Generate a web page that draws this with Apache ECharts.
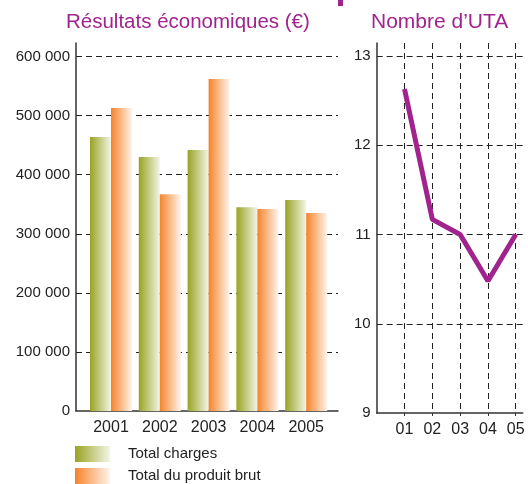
<!DOCTYPE html>
<html>
<head>
<meta charset="utf-8">
<script src="https://cdn.jsdelivr.net/npm/echarts@6/dist/echarts.min.js"></script>
<style>
html,body{margin:0;padding:0;background:#fff;}
#c{width:528px;height:484px;}
</style>
</head>
<body>
<div id="c"></div>
<script>
var years = ['2001', '2002', '2003', '2004', '2005'];
var totalCharges = [464000, 430000, 442000, 345000, 357000];
var produitBrut = [513000, 367000, 562000, 342000, 335000];
var utaLabels = ['01', '02', '03', '04', '05'];
var utaValues = [12.63, 11.17, 11.0, 10.48, 11.0];
var seriesNames = ['Total charges', 'Total du produit brut'];

var FONT = 'Liberation Sans';
var PURPLE = '#A1238D';
var AXIS = '#333';
var TEXT = '#222';

function grad(a, b) {
  return new echarts.graphic.LinearGradient(0, 0, 1, 0, [
    { offset: 0, color: a }, { offset: 1, color: b }
  ]);
}
function fmtThousands(v) {
  return String(v).replace(/\B(?=(\d{3})+(?!\d))/g, ' ');
}
var dashed = { type: [6, 4], color: TEXT, width: 1 };

var chart = echarts.init(document.getElementById('c'), null, { renderer: 'canvas' });
chart.setOption({
  animation: false,
  backgroundColor: '#fff',
  textStyle: { fontFamily: FONT },
  title: [
    { text: 'Résultats économiques (€)', left: 61, top: 7,
      textStyle: { color: PURPLE, fontSize: 20.5, fontWeight: 'normal', fontFamily: FONT } },
    { text: 'Nombre d’UTA', left: 366, top: 7,
      textStyle: { color: PURPLE, fontSize: 21, fontWeight: 'normal', fontFamily: FONT } }
  ],
  graphic: [
    { type: 'rect', left: 338, top: 0, shape: { width: 5, height: 6 }, style: { fill: PURPLE } }
  ],
  legend: {
    orient: 'vertical', left: 75, top: 446, padding: 0,
    itemWidth: 35, itemHeight: 16, itemGap: 6, icon: 'rect',
    data: seriesNames,
    textStyle: { fontSize: 15, color: TEXT, fontFamily: FONT, padding: [0, 0, 0, 13] }
  },
  grid: [
    { left: 76, top: 43, width: 262, height: 368 },
    { left: 86.6, top: 43, width: 244, height: 368 },
    { left: 376.7, top: 43, width: 146, height: 370 }
  ],
  xAxis: [
    { gridIndex: 0, type: 'value', min: 0, max: 1,
      axisLine: { show: true, onZero: false, lineStyle: { color: AXIS, width: 1.5 } },
      axisTick: { show: false }, axisLabel: { show: false }, splitLine: { show: false } },
    { gridIndex: 1, type: 'category', data: years,
      axisLine: { show: false }, axisTick: { show: false },
      axisLabel: { fontSize: 16, color: TEXT, margin: 9, fontFamily: FONT } },
    { gridIndex: 2, type: 'value', min: 0, max: 5.25, interval: 1,
      axisLine: { show: true, onZero: false, lineStyle: { color: AXIS, width: 1.5 } },
      axisTick: { show: true, length: 3, lineStyle: { color: AXIS } },
      axisLabel: { fontSize: 16, color: TEXT, margin: 9, fontFamily: FONT,
        showMaxLabel: false, showMinLabel: false,
        formatter: function (v) { return utaLabels[Math.round(v) - 1] || ''; } },
      splitLine: { show: true, showMinLine: false, showMaxLine: false, lineStyle: dashed } }
  ],
  yAxis: [
    { gridIndex: 0, type: 'value', min: 0, max: 623000, interval: 100000,
      axisLine: { show: true, lineStyle: { color: AXIS, width: 1.5 } },
      axisTick: { show: false },
      axisLabel: { fontSize: 15, color: TEXT, margin: 6, showMaxLabel: false, fontFamily: FONT,
        formatter: fmtThousands },
      splitLine: { show: true, showMinLine: false, showMaxLine: false, lineStyle: dashed } },
    { gridIndex: 1, type: 'value', min: 0, max: 623000, show: false, splitLine: { show: false } },
    { gridIndex: 2, type: 'value', min: 9, max: 13.146, interval: 1,
      axisLine: { show: true, lineStyle: { color: AXIS, width: 1.5 } },
      axisTick: { show: false },
      axisLabel: { fontSize: 15, color: TEXT, margin: 6, showMaxLabel: false, fontFamily: FONT },
      splitLine: { show: true, showMinLine: false, showMaxLine: false, lineStyle: dashed } }
  ],
  series: [
    { name: seriesNames[0], type: 'bar', xAxisIndex: 1, yAxisIndex: 1,
      barWidth: 21, barGap: '0%', data: totalCharges,
      itemStyle: { color: grad('#98A322', '#F3F5E8') } },
    { name: seriesNames[1], type: 'bar', xAxisIndex: 1, yAxisIndex: 1,
      barWidth: 21, barGap: '0%', data: produitBrut,
      itemStyle: { color: grad('#F5832B', '#FFF4EC') } },
    { name: 'UTA', type: 'line', xAxisIndex: 2, yAxisIndex: 2,
      showSymbol: false, symbol: 'none',
      lineStyle: { color: PURPLE, width: 5 },
      data: utaValues.map(function (v, i) { return [i + 1, v]; }) }
  ]
});
</script>
</body>
</html>
